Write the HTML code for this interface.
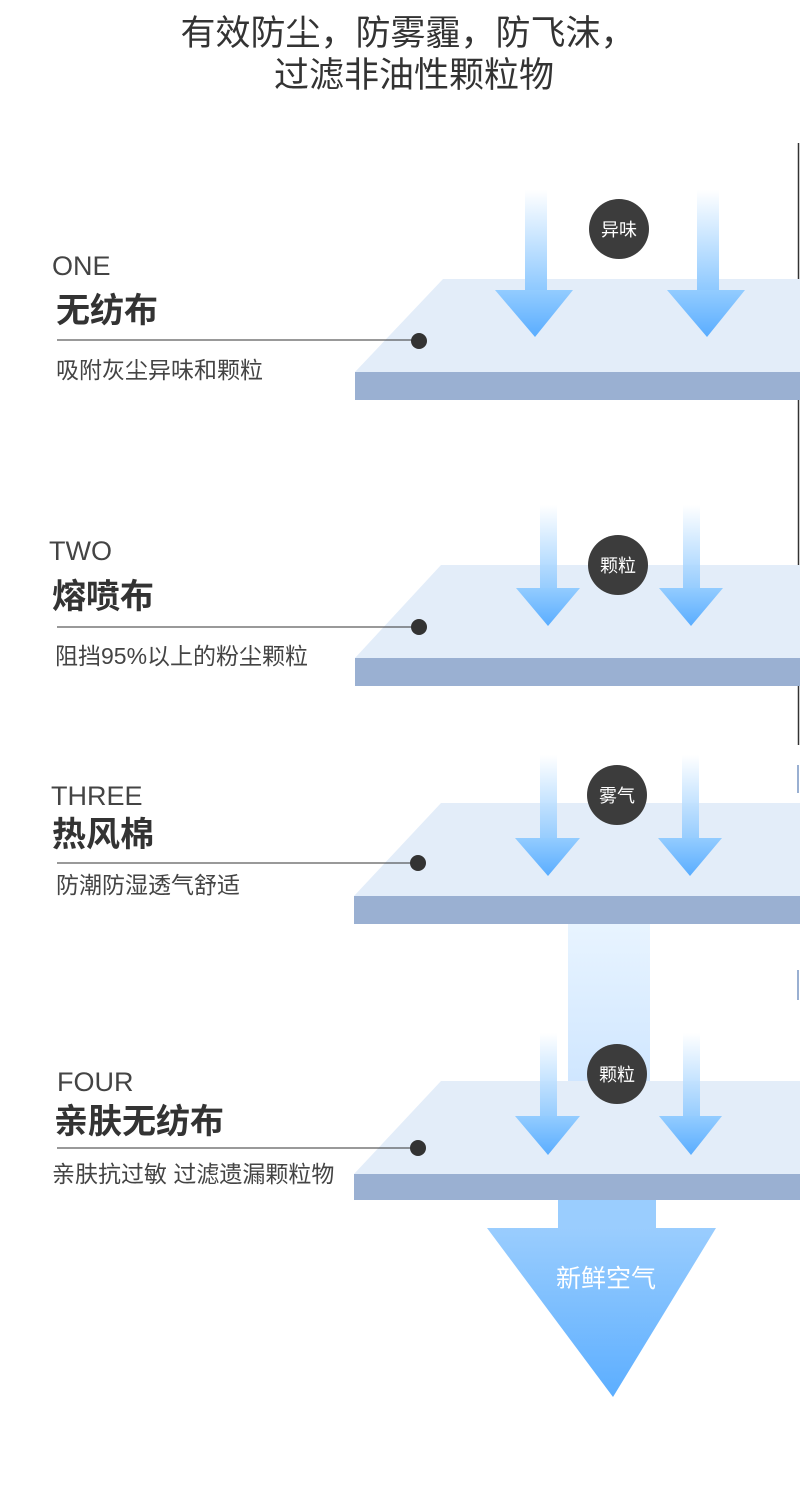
<!DOCTYPE html>
<html><head><meta charset="utf-8"><style>
html,body{margin:0;padding:0;background:#fff;}
svg{display:block;}
text{font-family:"Liberation Sans","Noto Sans CJK SC",sans-serif;}
</style></head><body>
<svg width="800" height="1494" viewBox="0 0 800 1494" xmlns="http://www.w3.org/2000/svg">
<defs>
<linearGradient id="sh" x1="0" y1="0" x2="0" y2="1"><stop offset="0" stop-color="#fff" stop-opacity="1"/><stop offset="1" stop-color="#8cc8ff"/></linearGradient>
<linearGradient id="hd" x1="0" y1="0" x2="0" y2="1"><stop offset="0" stop-color="#93ccff"/><stop offset="1" stop-color="#5aadff"/></linearGradient>
<linearGradient id="big" x1="0" y1="0" x2="0" y2="1"><stop offset="0" stop-color="#e8f4ff"/><stop offset="1" stop-color="#cfe6ff"/></linearGradient>
<linearGradient id="bh" x1="0" y1="0" x2="0" y2="1"><stop offset="0" stop-color="#9acdfe"/><stop offset="1" stop-color="#5caeff"/></linearGradient>
</defs>
<text x="408" y="45" font-size="35" fill="#333" text-anchor="middle">有效防尘，防雾霾，防飞沫，</text>
<text x="414" y="87" font-size="35" fill="#333" text-anchor="middle">过滤非油性颗粒物</text>
<line x1="798.5" y1="143" x2="798.5" y2="745" stroke="#333" stroke-width="1.5"/>
<rect x="797" y="765" width="2" height="28" fill="#9ab0d2"/>
<rect x="797" y="970" width="2" height="30" fill="#9ab0d2"/>

<rect x="568" y="924" width="82" height="160" fill="url(#big)"/>

<!-- Layer 1 -->
<polygon points="355,372 443,279 800,279 800,372" fill="#e3edf9"/>
<rect x="355" y="372" width="445" height="28" fill="#9ab0d2"/>
<rect x="525" y="190" width="22" height="102" fill="url(#sh)"/>
<polygon points="495,290 573,290 535,337" fill="url(#hd)"/>
<rect x="697" y="190" width="22" height="102" fill="url(#sh)"/>
<polygon points="667,290 745,290 707,337" fill="url(#hd)"/>
<circle cx="619" cy="229" r="30" fill="#3c3c3c"/>
<text x="619" y="236" font-size="18" fill="#fff" text-anchor="middle">异味</text>
<line x1="57" y1="340" x2="419" y2="340" stroke="#333" stroke-width="1"/>
<circle cx="419" cy="341" r="8" fill="#333"/>
<text x="52" y="275" font-size="27" fill="#444">ONE</text>
<text x="56" y="322" font-size="34" font-weight="bold" fill="#333">无纺布</text>
<text x="56" y="378" font-size="23" fill="#444">吸附灰尘异味和颗粒</text>

<!-- Layer 2 -->
<polygon points="355,658 441,565 800,565 800,658" fill="#e3edf9"/>
<rect x="355" y="658" width="445" height="28" fill="#9ab0d2"/>
<rect x="540" y="505" width="17" height="85" fill="url(#sh)" opacity="0.9"/>
<polygon points="516,588 580,588 548,626" fill="url(#hd)"/>
<rect x="683" y="505" width="17" height="85" fill="url(#sh)" opacity="0.9"/>
<polygon points="659,588 723,588 691,626" fill="url(#hd)"/>
<circle cx="618" cy="565" r="30" fill="#3c3c3c"/>
<text x="618" y="572" font-size="18" fill="#fff" text-anchor="middle">颗粒</text>
<line x1="57" y1="627" x2="419" y2="627" stroke="#333" stroke-width="1"/>
<circle cx="419" cy="627" r="8" fill="#333"/>
<text x="49" y="560" font-size="27" fill="#444">TWO</text>
<text x="52" y="608" font-size="34" font-weight="bold" fill="#333">熔喷布</text>
<text x="55" y="664" font-size="23" fill="#444">阻挡95%以上的粉尘颗粒</text>

<!-- Layer 3 -->
<polygon points="354,896 441,803 800,803 800,896" fill="#e3edf9"/>
<rect x="354" y="896" width="446" height="28" fill="#9ab0d2"/>
<rect x="540" y="755" width="17" height="85" fill="url(#sh)" opacity="0.9"/>
<polygon points="515,838 580,838 548,876" fill="url(#hd)"/>
<rect x="682" y="755" width="17" height="85" fill="url(#sh)" opacity="0.9"/>
<polygon points="658,838 722,838 690,876" fill="url(#hd)"/>
<circle cx="617" cy="795" r="30" fill="#3c3c3c"/>
<text x="617" y="802" font-size="18" fill="#fff" text-anchor="middle">雾气</text>
<line x1="57" y1="863" x2="418" y2="863" stroke="#333" stroke-width="1"/>
<circle cx="418" cy="863" r="8" fill="#333"/>
<text x="51" y="805" font-size="27" fill="#444">THREE</text>
<text x="52" y="846" font-size="34" font-weight="bold" fill="#333">热风棉</text>
<text x="56" y="893" font-size="23" fill="#444">防潮防湿透气舒适</text>

<!-- Layer 4 -->
<polygon points="354,1174 441,1081 800,1081 800,1174" fill="#e3edf9"/>
<rect x="354" y="1174" width="446" height="26" fill="#9ab0d2"/>
<rect x="540" y="1033" width="17" height="85" fill="url(#sh)" opacity="0.9"/>
<polygon points="515,1116 580,1116 548,1155" fill="url(#hd)"/>
<rect x="683" y="1033" width="17" height="85" fill="url(#sh)" opacity="0.9"/>
<polygon points="659,1116 722,1116 691,1155" fill="url(#hd)"/>
<circle cx="617" cy="1074" r="30" fill="#3c3c3c"/>
<text x="617" y="1081" font-size="18" fill="#fff" text-anchor="middle">颗粒</text>
<line x1="57" y1="1148" x2="418" y2="1148" stroke="#333" stroke-width="1"/>
<circle cx="418" cy="1148" r="8" fill="#333"/>
<text x="57" y="1091" font-size="27" fill="#444">FOUR</text>
<text x="54" y="1133" font-size="34" font-weight="bold" fill="#333">亲肤无纺布</text>
<text x="52" y="1182" font-size="23" fill="#444">亲肤抗过敏 过滤遗漏颗粒物</text>

<!-- bottom arrow -->
<rect x="558" y="1200" width="98" height="30" fill="#9acdfe"/>
<polygon points="487,1228 716,1228 613,1397" fill="url(#bh)"/>
<text x="606" y="1287" font-size="25" fill="#fff" text-anchor="middle">新鲜空气</text>
</svg>
</body></html>
